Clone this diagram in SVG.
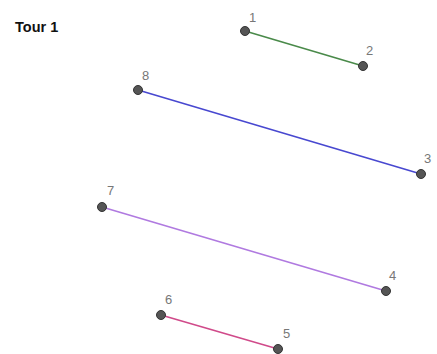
<svg xmlns="http://www.w3.org/2000/svg" width="437" height="354" viewBox="0 0 437 354">
<style>
.pt{fill:#555;stroke:#333;stroke-width:1}
.lb{font-family:"Liberation Sans",Arial,sans-serif;font-size:13px;fill:#777}
.seg{stroke-width:1.6;fill:none}
.title{font-family:"Liberation Sans",Arial,sans-serif;font-size:14.5px;font-weight:bold;fill:#111}
</style>
<rect width="437" height="354" fill="#fff"/>
<text class="title" x="15" y="32">Tour 1</text>
<g id="connectors">
<line class="seg" x1="245" y1="31" x2="363" y2="66" stroke="#4a8a4a"/>
<line class="seg" x1="138" y1="90" x2="421" y2="174" stroke="#4848d0"/>
<line class="seg" x1="102" y1="207" x2="386" y2="291" stroke="#b07ae0"/>
<line class="seg" x1="161" y1="315" x2="278" y2="349" stroke="#d04a8a"/>
</g>
<g id="n1"><circle class="pt" cx="245" cy="31" r="4.5"/><text class="lb" x="249" y="22">1</text></g>
<g id="n2"><circle class="pt" cx="363" cy="66" r="4.5"/><text class="lb" x="366" y="55">2</text></g>
<g id="n8"><circle class="pt" cx="138" cy="90" r="4.5"/><text class="lb" x="142" y="80">8</text></g>
<g id="n3"><circle class="pt" cx="421" cy="174" r="4.5"/><text class="lb" x="424" y="163">3</text></g>
<g id="n7"><circle class="pt" cx="102" cy="207" r="4.5"/><text class="lb" x="107" y="195">7</text></g>
<g id="n4"><circle class="pt" cx="386" cy="291" r="4.5"/><text class="lb" x="389" y="280">4</text></g>
<g id="n6"><circle class="pt" cx="161" cy="315" r="4.5"/><text class="lb" x="165" y="304">6</text></g>
<g id="n5"><circle class="pt" cx="278" cy="349" r="4.5"/><text class="lb" x="283" y="338">5</text></g>
</svg>
